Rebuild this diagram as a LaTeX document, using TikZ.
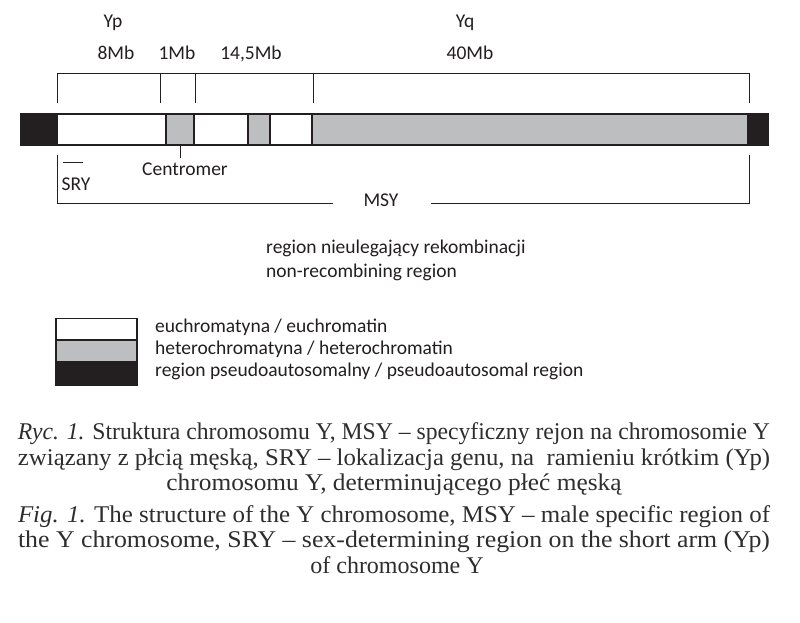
\documentclass[tikz,border=0pt]{standalone}
\usepackage{fontspec}
\setmainfont{Carlito}
\newfontfamily\capfont{Liberation Serif}
\definecolor{hetgray}{HTML}{BCBEC0}
\definecolor{pablack}{HTML}{231F20}
\definecolor{captxt}{HTML}{2E2E2E}
\newcommand\capjust[2][752pt]{\resizebox{#1}{\height}{#2}}
\begin{document}
\begin{tikzpicture}[x=1pt,y=-1pt,
  lbl/.style={inner sep=0pt,font=\fontsize{19.5}{23}\selectfont,text=pablack},
  captionline/.style={inner sep=0pt,font=\capfont\fontsize{24}{28}\selectfont,text=captxt},
  brk/.style={draw=pablack,line width=1pt},
  barline/.style={draw=pablack,line width=1.3pt}]
\useasboundingbox[fill=white] (0,0) rectangle (800,622);
% chromosome bar
\fill[pablack] (21,114) rectangle (57,145);
\fill[white] (57,114) rectangle (166,145);
\fill[hetgray] (166,114) rectangle (194,145);
\fill[white] (194,114) rectangle (248,145);
\fill[hetgray] (248,114) rectangle (270,145);
\fill[white] (270,114) rectangle (312,145);
\fill[hetgray] (312,114) rectangle (748,145);
\fill[pablack] (748,114) rectangle (768,145);
\draw[barline] (21,114) rectangle (768,145);
\foreach \xx in {57,166,194,248,270,312,748} \draw[barline] (\xx,114) -- (\xx,145);
% top bracket
\coordinate (t0) at (57,73); \coordinate (t4) at (749,73);
\draw[brk] (57,103) -- (t0) -- (t4) -- (749,103);
\foreach \xx in {160.5,195.5,313} \draw[brk] (\xx,73) -- (\xx,103);
% labels top
\node[lbl,anchor=base] (yp) at (113,27) {Yp};
\node[lbl,anchor=base] (yq) at (465,27) {Yq};
\node[lbl,anchor=base] (m8) at (116,59) {8Mb};
\node[lbl,anchor=base] (m1) at (177,59) {1Mb};
\node[lbl,anchor=base] (m14) at (251,59) {14,5Mb};
\node[lbl,anchor=base] (m40) at (470,59) {40Mb};
% SRY and centromer
\node[lbl,anchor=base west] (sry) at (61.5,190) {SRY};
\draw[brk] (62.5,162.5) -- (82.5,162.5);
\node[lbl,anchor=base] (cen) at (185,175) {Centromer};
\coordinate (cenTop) at (180,145);
\draw[brk] (cenTop) -- (180,158);
% MSY bracket
\node[lbl,anchor=base] (msy) at (381,206) {MSY};
\draw[brk] (57,155) -- (57,203) -- (333,203);
\draw[brk] (431,203) -- (749,203) -- (749,155);
% region text
\node[lbl,anchor=base west] (r1) at (266,253) {region nieulegający rekombinacji};
\node[lbl,anchor=base west] (r2) at (266,277) {non-recombining region};
% legend
\fill[white] (56,318.5) rectangle (137,340);
\fill[hetgray] (56,340) rectangle (137,362);
\fill[pablack] (56,362) rectangle (137,385);
\draw[barline] (56,318.5) rectangle (137,385);
\draw[barline] (56,340) -- (137,340);
\draw[barline] (56,362) -- (137,362);
\node[lbl,anchor=base west] (l1) at (155,332) {euchromatyna / euchromatin};
\node[lbl,anchor=base west] (l2) at (155,354) {heterochromatyna / heterochromatin};
\node[lbl,anchor=base west] (l3) at (155,376) {region pseudoautosomalny / pseudoautosomal region};
% caption
\node[captionline,anchor=base] (c1) at (394,439) {\capjust{\textit{Ryc. 1.} Struktura chromosomu Y, MSY – specyficzny rejon na chromosomie Y}};
\node[captionline,anchor=base] (c2) at (394,465) {\capjust{związany z płcią męską, SRY – lokalizacja genu, na\ \ ramieniu krótkim (Yp)}};
\node[captionline,anchor=base] (c3) at (394,490) {\capjust[455pt]{chromosomu Y, determinującego płeć męską}};
\node[captionline,anchor=base] (c4) at (394,522) {\capjust{\textit{Fig. 1.} The structure of the Y chromosome, MSY – male specific region of}};
\node[captionline,anchor=base] (c5) at (394,547) {\capjust{the Y chromosome, SRY – sex-determining region on the short arm (Yp)}};
\node[captionline,anchor=base] (c6) at (397,573) {of chromosome Y};
\end{tikzpicture}
\end{document}
